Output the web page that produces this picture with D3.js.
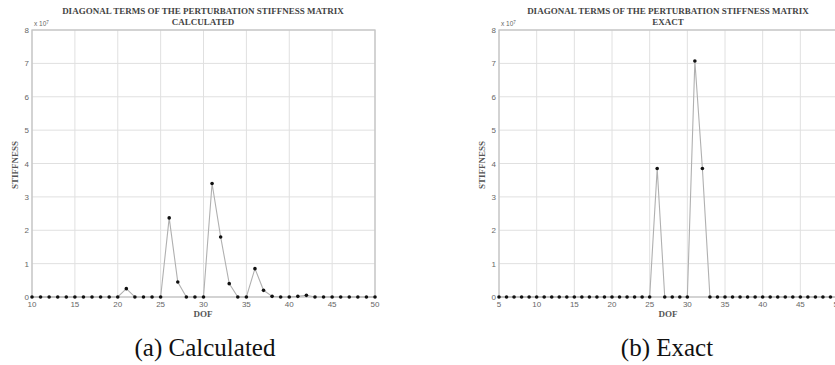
<!DOCTYPE html>
<html>
<head>
<meta charset="utf-8">
<script src="https://cdn.jsdelivr.net/npm/d3@7"></script>
<style>
  body { margin: 0; background: #fff; }
  svg { display: block; }
</style>
</head>
<body>
<script>
var width = 835,
    height = 365;

// calculated diagonal terms (x 10^7), DOF 10..50
var calc_dof = d3.range(10, 51);
var calc_values = [0, 0, 0, 0, 0, 0, 0, 0, 0, 0, 0,
    0.25, 0, 0, 0, 0,
    2.37, 0.45, 0, 0, 0,
    3.4, 1.8, 0.4, 0, 0,
    0.85, 0.2, 0.02, 0, 0,
    0.02, 0.05, 0, 0, 0, 0, 0, 0, 0, 0];

// exact diagonal terms (x 10^7), DOF 5..50
var exact_dof = d3.range(5, 51);
var exact_values = [0, 0, 0, 0, 0, 0, 0, 0, 0, 0, 0, 0, 0, 0, 0, 0, 0, 0, 0, 0, 0,
    3.85, 0, 0, 0, 0,
    7.07, 3.85, 0,
    0, 0, 0, 0, 0, 0, 0, 0, 0, 0, 0, 0, 0, 0, 0, 0, 0, 0];

var calc_xticks = [10, 15, 20, 25, 30, 35, 40, 45, 50];
var exact_xticks = [5, 10, 15, 20, 25, 30, 35, 40, 45, 50];
var y_ticks = [0, 1, 2, 3, 4, 5, 6, 7, 8];

var title_main = "DIAGONAL TERMS OF THE PERTURBATION STIFFNESS MATRIX";

var serif = "'Liberation Serif', 'Times New Roman', serif";
var sans = "'Liberation Sans', Arial, sans-serif";

var svg = d3.select("body").append("svg")
    .attr("width", width)
    .attr("height", height);

function drawPanel(opts) {
    var x = d3.scaleLinear().domain(opts.xdomain).range([opts.left, opts.right]);
    var y = d3.scaleLinear().domain([0, 8]).range([297, 30]);
    var g = svg.append("g");

    // grid
    g.selectAll("line.vgrid")
        .data(opts.xticks)
        .join("line")
        .attr("x1", d => x(d)).attr("x2", d => x(d))
        .attr("y1", y(0)).attr("y2", y(8))
        .attr("stroke", "#e0e0e0")
        .attr("stroke-width", 1);
    g.selectAll("line.hgrid")
        .data(y_ticks)
        .join("line")
        .attr("x1", opts.left).attr("x2", opts.right)
        .attr("y1", d => y(d)).attr("y2", d => y(d))
        .attr("stroke", "#e0e0e0")
        .attr("stroke-width", 1);

    // box
    g.append("rect")
        .attr("x", opts.left).attr("y", y(8))
        .attr("width", opts.right - opts.left)
        .attr("height", y(0) - y(8))
        .attr("fill", "none")
        .attr("stroke", "#c4c4c4")
        .attr("stroke-width", 1.3);

    // tick labels
    g.selectAll("text.yt")
        .data(y_ticks)
        .join("text")
        .attr("x", opts.left - 3)
        .attr("y", d => y(d) + 3)
        .attr("text-anchor", "end")
        .style("font-family", sans)
        .style("font-size", "8px")
        .attr("fill", "#666")
        .text(d => d);
    g.selectAll("text.xt")
        .data(opts.xticks)
        .join("text")
        .attr("x", d => x(d))
        .attr("y", y(0) + 10)
        .attr("text-anchor", "middle")
        .style("font-family", sans)
        .style("font-size", "8px")
        .attr("fill", "#666")
        .text(d => d);

    // x 10^7
    var exp = g.append("text")
        .attr("x", opts.left + 2)
        .attr("y", y(8) - 4)
        .style("font-family", sans)
        .style("font-size", "6.5px")
        .attr("fill", "#666");
    exp.append("tspan").text("x 10");
    exp.append("tspan").attr("dy", -2.5).style("font-size", "4.5px").text("7");

    // titles
    g.append("text")
        .attr("x", opts.tcx).attr("y", 14)
        .attr("text-anchor", "middle")
        .style("font-family", serif).style("font-size", "9px").style("font-weight", "bold")
        .attr("fill", "#444")
        .text(title_main);
    g.append("text")
        .attr("x", opts.tcx).attr("y", 25)
        .attr("text-anchor", "middle")
        .style("font-family", serif).style("font-size", "9px").style("font-weight", "bold")
        .attr("fill", "#444")
        .text(opts.subtitle);
    g.append("text")
        .attr("x", opts.tcx).attr("y", 317)
        .attr("text-anchor", "middle")
        .style("font-family", serif).style("font-size", "9px").style("font-weight", "bold")
        .attr("fill", "#555")
        .text("DOF");
    g.append("text")
        .attr("transform", "translate(" + (opts.left - 14) + "," + 165 + ") rotate(-90)")
        .attr("text-anchor", "middle")
        .style("font-family", serif).style("font-size", "9px").style("font-weight", "bold")
        .attr("fill", "#555")
        .text("STIFFNESS");

    // caption
    g.append("text")
        .attr("x", opts.ccx).attr("y", 356)
        .attr("text-anchor", "middle")
        .style("font-family", serif).style("font-size", "25px")
        .attr("fill", "#111")
        .text(opts.caption);

    // series
    var pts = opts.dof.map((d, i) => [d, opts.values[i]]);
    var line = d3.line().x(d => x(d[0])).y(d => y(d[1]));
    g.append("path")
        .attr("d", line(pts))
        .attr("fill", "none")
        .attr("stroke", "#b0b0b0")
        .attr("stroke-width", 1.1);
    g.selectAll("circle.pt")
        .data(pts)
        .join("circle")
        .attr("cx", d => x(d[0]))
        .attr("cy", d => y(d[1]))
        .attr("r", 1.8)
        .attr("fill", "#111");
}

drawPanel({
    xdomain: [10, 50], left: 32, right: 375, xticks: calc_xticks,
    dof: calc_dof, values: calc_values,
    subtitle: "CALCULATED", caption: "(a) Calculated", tcx: 203, ccx: 205
});
drawPanel({
    xdomain: [5, 50], left: 499, right: 838, xticks: exact_xticks,
    dof: exact_dof, values: exact_values,
    subtitle: "EXACT", caption: "(b) Exact", tcx: 668, ccx: 667
});
</script>
</body>
</html>
